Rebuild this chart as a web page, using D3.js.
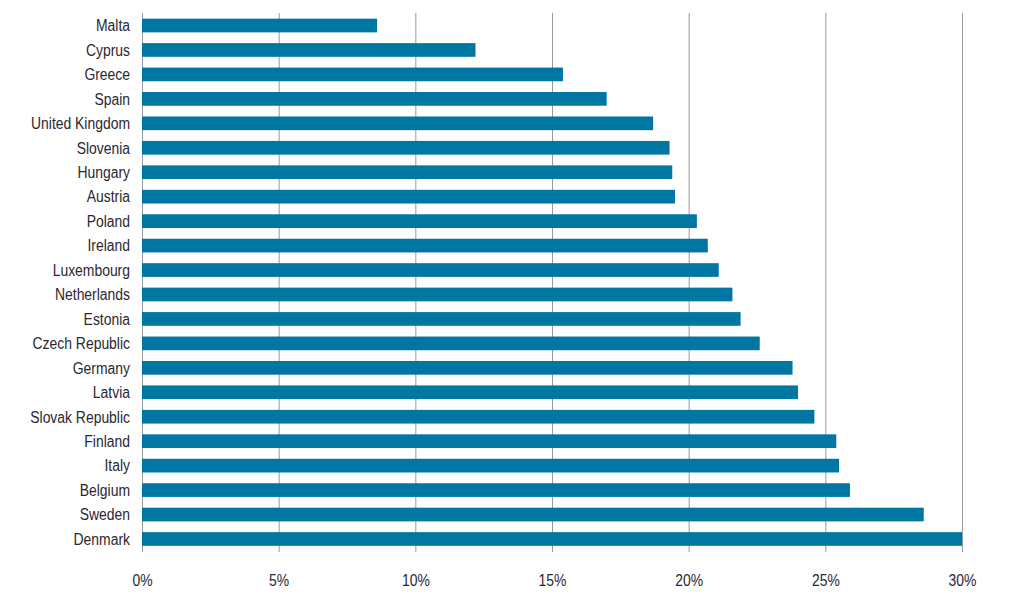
<!DOCTYPE html>
<html><head><meta charset="utf-8">
<script src="https://cdn.jsdelivr.net/npm/d3@7/dist/d3.min.js"></script>
<style>
body{margin:0;background:#fff;}
text{font-family:"Liberation Sans","Arial",sans-serif;fill:#2b2732;}
</style></head>
<body><svg id="c" width="1025" height="596"></svg>
<script>
const countries = ["Malta","Cyprus","Greece","Spain","United Kingdom","Slovenia","Hungary","Austria","Poland","Ireland","Luxembourg","Netherlands","Estonia","Czech Republic","Germany","Latvia","Slovak Republic","Finland","Italy","Belgium","Sweden","Denmark"];
const values = [8.6,12.2,15.4,17.0,18.7,19.3,19.4,19.5,20.3,20.7,21.1,21.6,21.9,22.6,23.8,24.0,24.6,25.4,25.5,25.9,28.6,30.0];
const ticks = [0,5,10,15,20,25,30];

const svg = d3.select("#c");
const x = d3.scaleLinear().domain([0,30]).range([142,962]);
const y = d3.scaleBand().domain(countries).range([13.3,551.2]).paddingInner(0.44).paddingOuter(0.22);
const gTop = 13, gBot = 552;
const sx = 0.87;

// gridlines
svg.append("g").selectAll("line").data(ticks).join("line")
  .attr("x1",d=>x(d)+0.5).attr("x2",d=>x(d)+0.5)
  .attr("y1",gTop).attr("y2",gBot)
  .attr("stroke","#9a9a9a").attr("stroke-width",1);

// bars
svg.append("g").selectAll("rect").data(countries).join("rect")
  .attr("x",x(0)).attr("y",d=>y(d))
  .attr("width",(d,i)=>x(values[i])-x(0)).attr("height",y.bandwidth())
  .attr("fill","#0077a2");

// y labels
svg.append("g").selectAll("text").data(countries).join("text")
  .attr("transform",d=>`translate(130,${y(d)+y.bandwidth()/2+5.8}) scale(${sx},1)`)
  .attr("text-anchor","end")
  .attr("font-size",16).text(d=>d);

// x labels
svg.append("g").selectAll("text").data(ticks).join("text")
  .attr("transform",d=>`translate(${x(d)+0.5},585.5) scale(${sx},1)`)
  .attr("text-anchor","middle")
  .attr("font-size",16).text(d=>d+"%");
</script></body></html>
